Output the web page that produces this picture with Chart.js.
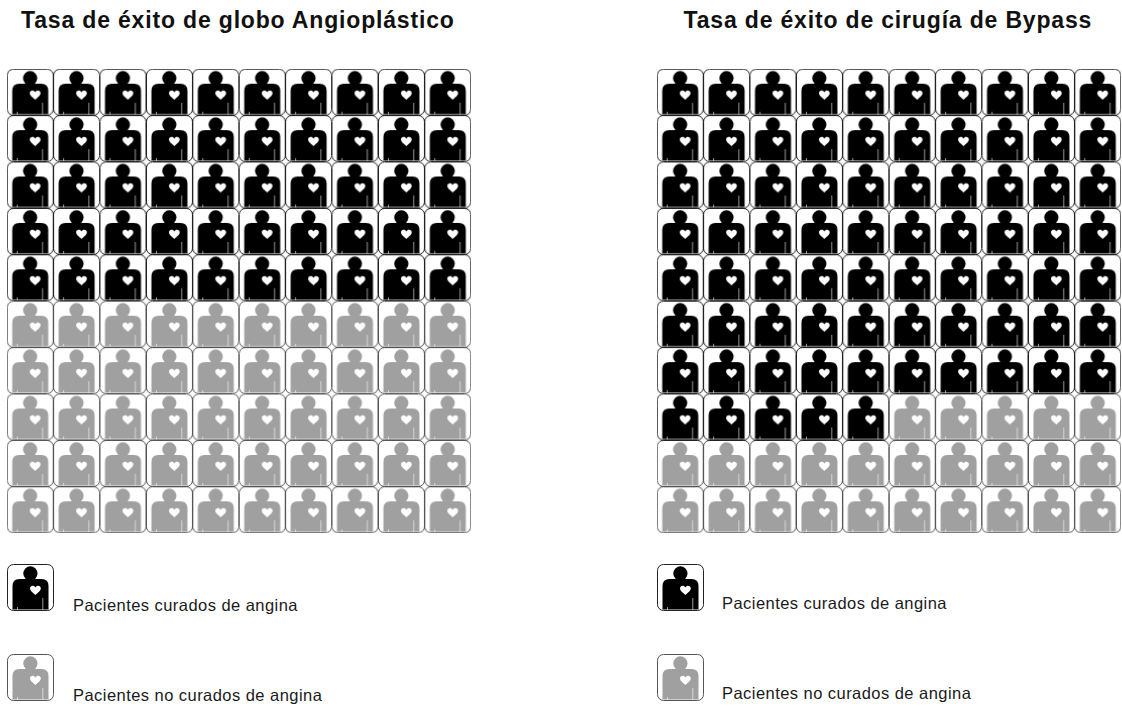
<!DOCTYPE html>
<html>
<head>
<meta charset="utf-8">
<script src="https://cdn.jsdelivr.net/npm/chart.js@4"></script>
<style>
  html, body { margin: 0; background: #fff; }
  body { position: relative; width: 1122px; height: 706px; overflow: hidden; font-family: "Liberation Sans", sans-serif; color: #1a1a1a; }
  canvas { position: absolute; }
  .title { position: absolute; top: 8px; font-size: 23px; font-weight: bold; letter-spacing: 0.83px; white-space: nowrap; line-height: 24px; color: #111; }
  .legendText { position: absolute; font-size: 16.5px; letter-spacing: 0.45px; white-space: nowrap; line-height: 18px; }
</style>
</head>
<body>
<script>
// Data
const gridColumns = ['1', '2', '3', '4', '5', '6', '7', '8', '9', '10'];
const gridRows = ['1', '2', '3', '4', '5', '6', '7', '8', '9', '10'];
const panelTitles = ['Tasa de éxito de globo Angioplástico', 'Tasa de éxito de cirugía de Bypass'];
const curedCounts = [50, 75];
const legendLabels = ['Pacientes curados de angina', 'Pacientes no curados de angina'];

const curedColor = '#000000';
const notCuredColor = '#a0a0a0';

// Person icon with a heart, used as the point style
function makeIcon(color, borderColor) {
    const icon = document.createElement('canvas');
    icon.width = 47;
    icon.height = 47;
    const c = icon.getContext('2d');

    c.fillStyle = color;
    c.beginPath();
    c.arc(23.4, 9.4, 7.1, 0, Math.PI * 2);
    c.fill();

    // body
    c.beginPath();
    c.moveTo(5.5, 45.5);
    c.lineTo(5.5, 22);
    c.quadraticCurveTo(5.5, 15, 12.5, 15);
    c.lineTo(34.5, 15);
    c.quadraticCurveTo(41.5, 15, 41.5, 22);
    c.lineTo(41.5, 45.5);
    c.closePath();
    c.fill();

    // arm slits
    c.strokeStyle = '#fff';
    c.lineWidth = 0.6;
    c.beginPath();
    c.moveTo(35.8, 34);
    c.lineTo(35.8, 46);
    c.moveTo(10.5, 43);
    c.lineTo(10.5, 46);
    c.stroke();

    // heart
    c.fillStyle = '#fff';
    c.beginPath();
    c.moveTo(28.4, 31);
    c.bezierCurveTo(25.2, 28, 23, 26.6, 23, 24.4);
    c.bezierCurveTo(23, 21.4, 27, 20.8, 28.4, 23.4);
    c.bezierCurveTo(29.8, 20.8, 33.8, 21.4, 33.8, 24.4);
    c.bezierCurveTo(33.8, 26.6, 31.6, 28, 28.4, 31);
    c.fill();

    // rounded frame
    c.strokeStyle = borderColor;
    c.lineWidth = 1;
    c.beginPath();
    c.roundRect(0.5, 0.5, 46, 46, 6);
    c.stroke();
    return icon;
}

const curedIcon = makeIcon(curedColor, '#222222');
const notCuredIcon = makeIcon(notCuredColor, '#555555');

function addTitle(text, left) {
    const el = document.createElement('div');
    el.className = 'title';
    el.style.left = left + 'px';
    el.textContent = text;
    document.body.appendChild(el);
}

function addLegendRow(icon, text, iconLeft, iconTop, textLeft, textTop) {
    const copy = document.createElement('canvas');
    copy.width = icon.width;
    copy.height = icon.height;
    copy.getContext('2d').drawImage(icon, 0, 0);
    copy.style.left = iconLeft + 'px';
    copy.style.top = iconTop + 'px';
    document.body.appendChild(copy);

    const el = document.createElement('div');
    el.className = 'legendText';
    el.style.left = textLeft + 'px';
    el.style.top = textTop + 'px';
    el.textContent = text;
    document.body.appendChild(el);
}

// Split the cells of the 10x10 grid in cured and not cured, row by row
function buildPoints(cured) {
    const curedPoints = [];
    const otherPoints = [];
    gridRows.forEach((row, r) => {
        gridColumns.forEach((col, k) => {
            const target = r * gridColumns.length + k < cured ? curedPoints : otherPoints;
            target.push({ x: col, y: row });
        });
    });
    return [curedPoints, otherPoints];
}

function drawPanel(index, left) {
    const canvas = document.createElement('canvas');
    canvas.style.left = (left - 2) + 'px';
    canvas.style.top = '67px';
    canvas.width = 468;
    canvas.height = 468;
    document.body.appendChild(canvas);

    const [curedPoints, otherPoints] = buildPoints(curedCounts[index]);
    new Chart(canvas.getContext('2d'), {
        type: 'scatter',
        data: {
            datasets: [
                { label: legendLabels[0], data: curedPoints, pointStyle: curedIcon, clip: false },
                { label: legendLabels[1], data: otherPoints, pointStyle: notCuredIcon, clip: false }
            ]
        },
        options: {
            responsive: false,
            animation: false,
            layout: { padding: 2, autoPadding: false },
            plugins: { legend: { display: false }, tooltip: { enabled: false } },
            scales: {
                x: { type: 'category', labels: gridColumns, offset: true, display: false },
                y: { type: 'category', labels: gridRows, offset: true, display: false }
            }
        }
    });
}

drawPanel(0, 7);
drawPanel(1, 657);

addTitle(panelTitles[0], 21);
addTitle(panelTitles[1], 683.5);

addLegendRow(curedIcon, legendLabels[0], 7, 564, 73, 596);
addLegendRow(notCuredIcon, legendLabels[1], 7, 654, 73, 686);
addLegendRow(curedIcon, legendLabels[0], 657, 564, 722, 594);
addLegendRow(notCuredIcon, legendLabels[1], 657, 654, 722, 684);
</script>
</body>
</html>
